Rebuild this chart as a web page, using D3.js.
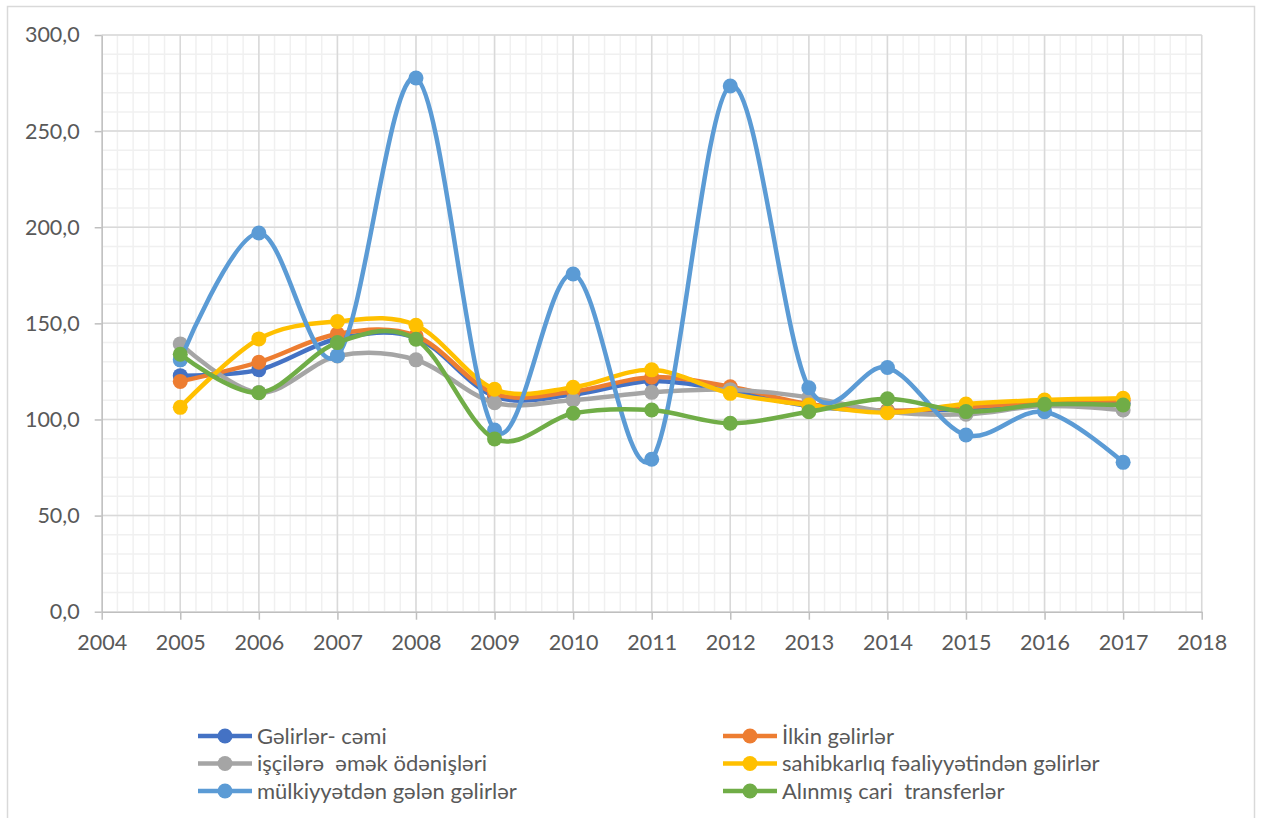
<!DOCTYPE html>
<html>
<head>
<meta charset="utf-8">
<script src="https://cdn.jsdelivr.net/npm/d3@7"></script>
<style>
  body { margin: 0; background: #fff; }
  svg { display: block; font-family: Lato, "Open Sans", sans-serif; }
  .tick text { fill: #595959; font-size: 21.5px; }
  .legend text { fill: #595959; font-size: 22px; white-space: pre; }
</style>
</head>
<body>
<div id="chart"></div>
<script>
// years on the x axis
var years = [2005, 2006, 2007, 2008, 2009, 2010, 2011, 2012, 2013, 2014, 2015, 2016, 2017];

// series names (legend), in drawing order
var seriesNames = [
  "Gəlirlər- cəmi",
  "İlkin gəlirlər",
  "işçilərə  əmək ödənişləri",
  "sahibkarlıq fəaliyyətindən gəlirlər",
  "mülkiyyətdən gələn gəlirlər",
  "Alınmış cari  transferlər"
];

// values
var totalIncome     = [122.8, 125.8, 142.0, 142.5, 112.0, 113.0, 120.0, 115.0, 107.0, 104.5, 105.5, 108.0, 108.5];
var primaryIncome   = [119.8, 129.8, 144.5, 143.5, 113.5, 114.5, 122.0, 117.0, 108.0, 104.5, 106.5, 109.0, 110.0];
var wages           = [139.3, 114.0, 133.0, 131.0, 108.7, 110.1, 114.1, 115.5, 111.5, 104.0, 102.7, 107.0, 104.9];
var businessIncome  = [106.3, 141.9, 151.0, 149.0, 115.7, 116.7, 125.8, 113.6, 107.5, 103.5, 108.0, 110.1, 111.0];
var propertyIncome  = [131.0, 197.0, 133.2, 277.6, 94.5, 175.7, 79.3, 273.5, 116.5, 127.0, 91.9, 104.0, 77.7];
var transfers       = [133.9, 113.9, 140.0, 141.7, 89.9, 103.2, 104.9, 98.0, 104.0, 110.8, 104.1, 107.9, 107.5];

var seriesValues = [totalIncome, primaryIncome, wages, businessIncome, propertyIncome, transfers];
var colors = ["#4472C4", "#ED7D31", "#A5A5A5", "#FFC000", "#5B9BD5", "#70AD47"];

var width = 1261, height = 818;

var svg = d3.select("#chart").append("svg")
  .attr("width", width)
  .attr("height", height);

// chart frame
svg.append("rect")
  .attr("x", 7.5).attr("y", 6.5)
  .attr("width", 1247).attr("height", 840)
  .attr("fill", "#fff")
  .attr("stroke", "#d9d9d9")
  .attr("stroke-width", 1.5);

var x = d3.scaleLinear().domain([2004, 2018]).range([101.7, 1201.7]);
var y = d3.scaleLinear().domain([0, 300]).range([611.7, 35]);

// minor gridlines
var grid = svg.append("g");
grid.selectAll(".minorV")
  .data(d3.range(0, 71).map(function(i) { return 2004 + i * 0.2; }))
  .enter().append("line")
  .attr("x1", function(d) { return x(d); }).attr("x2", function(d) { return x(d); })
  .attr("y1", y(0)).attr("y2", y(300))
  .attr("stroke", "#f0f0f0").attr("stroke-width", 1.5);
grid.selectAll(".minorH")
  .data(d3.range(0, 301, 10))
  .enter().append("line")
  .attr("x1", x(2004)).attr("x2", x(2018))
  .attr("y1", function(d) { return y(d); }).attr("y2", function(d) { return y(d); })
  .attr("stroke", "#f0f0f0").attr("stroke-width", 1.5);

// major gridlines
grid.selectAll(".majorV")
  .data(d3.range(2005, 2019))
  .enter().append("line")
  .attr("x1", function(d) { return x(d); }).attr("x2", function(d) { return x(d); })
  .attr("y1", y(0)).attr("y2", y(300))
  .attr("stroke", "#d9d9d9").attr("stroke-width", 1.5);
grid.selectAll(".majorH")
  .data(d3.range(50, 301, 50))
  .enter().append("line")
  .attr("x1", x(2004)).attr("x2", x(2018))
  .attr("y1", function(d) { return y(d); }).attr("y2", function(d) { return y(d); })
  .attr("stroke", "#d9d9d9").attr("stroke-width", 1.5);

// axes
var yAxis = d3.axisLeft(y)
  .tickValues(d3.range(0, 301, 50))
  .tickSize(7).tickSizeOuter(0).tickPadding(15)
  .tickFormat(function(d) { return d.toFixed(1).replace(".", ","); });
var xAxis = d3.axisBottom(x)
  .tickValues(d3.range(2004, 2019))
  .tickSize(8).tickSizeOuter(0).tickPadding(15)
  .tickFormat(d3.format("d"));

var gy = svg.append("g").attr("transform", "translate(" + x(2004) + ",0)").call(yAxis);
var gx = svg.append("g").attr("transform", "translate(0," + y(0) + ")").call(xAxis);
[gy, gx].forEach(function(g) {
  g.select(".domain").attr("stroke", "#bfbfbf").attr("stroke-width", 1.5);
  g.selectAll(".tick line").attr("stroke", "#bfbfbf").attr("stroke-width", 1.5);
  g.selectAll("text").style("font-family", "Lato, 'Open Sans', sans-serif");
});

// series
var line = d3.line()
  .x(function(d) { return x(d.year); })
  .y(function(d) { return y(d.value); })
  .curve(d3.curveCardinal.tension(0));

seriesValues.forEach(function(vals, i) {
  var pts = years.map(function(yr, j) { return { year: yr, value: vals[j] }; });
  var g = svg.append("g");
  g.append("path")
    .datum(pts)
    .attr("d", line)
    .attr("fill", "none")
    .attr("stroke", colors[i])
    .attr("stroke-width", 4.5)
    .attr("stroke-linejoin", "round")
    .attr("stroke-linecap", "round");
  g.selectAll("circle")
    .data(pts)
    .enter().append("circle")
    .attr("cx", function(d) { return x(d.year); })
    .attr("cy", function(d) { return y(d.value); })
    .attr("r", 7.5)
    .attr("fill", colors[i]);
});

// legend: two columns, three rows
var legend = svg.append("g").attr("class", "legend")
  .selectAll("g")
  .data(seriesNames)
  .enter().append("g")
  .attr("transform", function(d, i) {
    var col = i % 2, row = Math.floor(i / 2);
    return "translate(" + (col === 0 ? 198 : 723) + "," + (736 + row * 27.5) + ")";
  });
legend.append("line")
  .attr("x1", 0).attr("x2", 54)
  .attr("stroke", function(d, i) { return colors[i]; })
  .attr("stroke-width", 4.5);
legend.append("circle")
  .attr("cx", 27).attr("r", 7.5)
  .attr("fill", function(d, i) { return colors[i]; });
legend.append("text")
  .attr("x", 59)
  .attr("dy", "0.35em")
  .text(function(d) { return d; });
</script>
</body>
</html>
